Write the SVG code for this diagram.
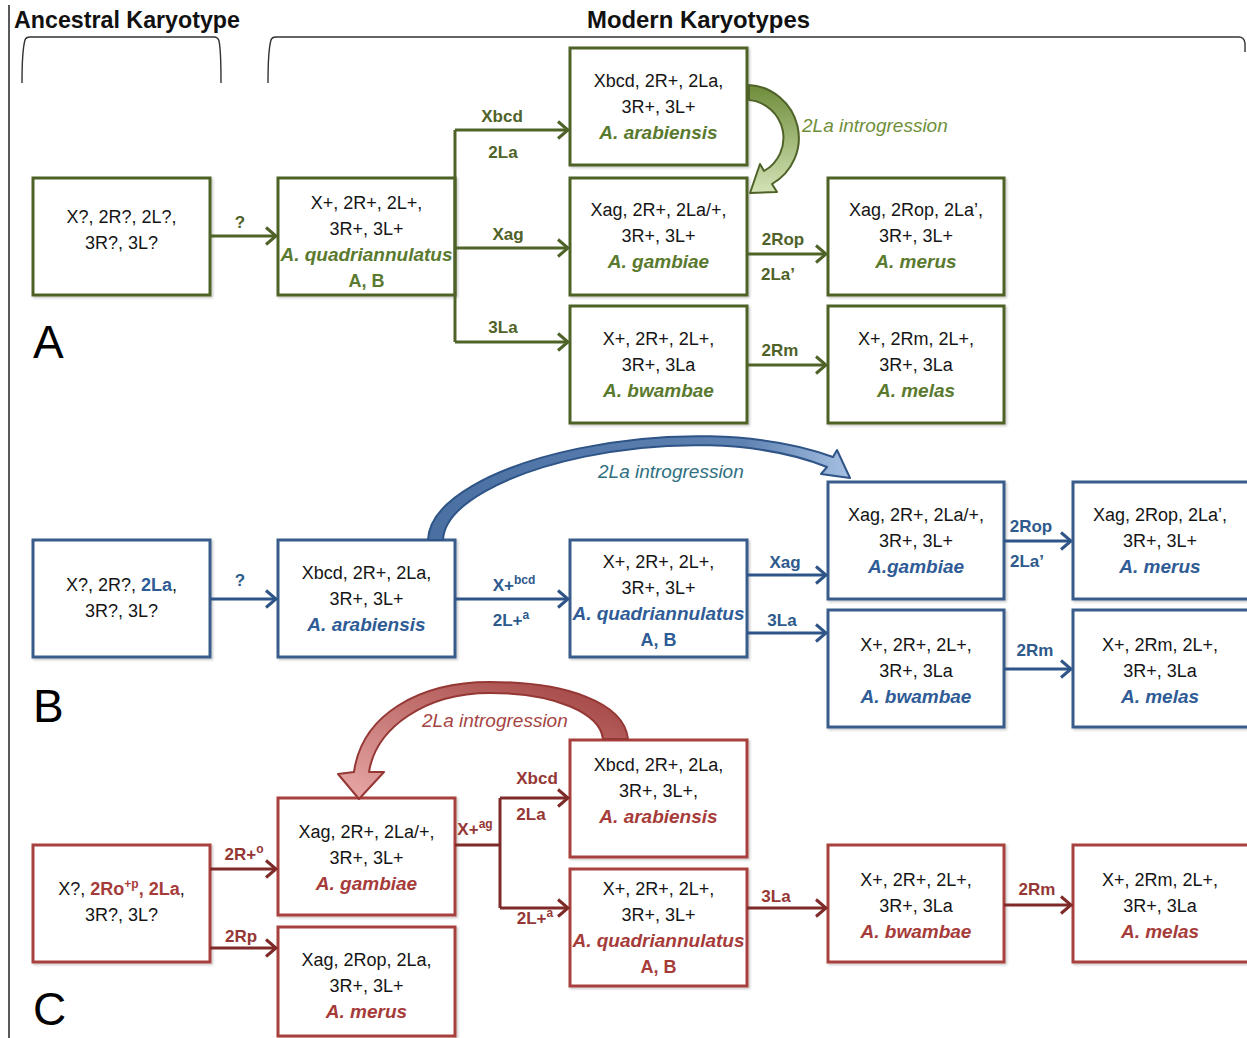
<svg xmlns="http://www.w3.org/2000/svg" width="1247" height="1038" viewBox="0 0 1247 1038">
  <defs>
    <style>
      .t { font-family: "Liberation Sans", Arial, sans-serif; font-size: 18px; text-anchor: middle; fill: #151515; }
      .sp { font-weight: bold; font-style: italic; font-size: 19px; }
      .ab { font-weight: bold; font-style: normal; font-size: 18px; }
      .lb { font-family: "Liberation Sans", Arial, sans-serif; font-weight: bold; font-size: 17px; text-anchor: middle; }
      .hd { font-family: "Liberation Sans", Arial, sans-serif; font-weight: bold; font-size: 24px; fill: #111; }
      .pl { font-family: "Liberation Sans", Arial, sans-serif; font-size: 46px; fill: #000; }
      .intro { font-family: "Liberation Sans", Arial, sans-serif; font-style: italic; font-size: 19px; }
      .box { fill: #fff; stroke-width: 3; filter: url(#shadow); }
      .gr .box { stroke: #4F6228; }
      .bl .box { stroke: #385D8A; }
      .rd .box { stroke: #A8403E; }
      .gr .sp, .gr .ab, .gr .ac { fill: #5A7A2F; }
      .bl .sp, .bl .ab, .bl .ac { fill: #2F5C96; }
      .rd .sp, .rd .ab, .rd .ac { fill: #A63C3A; }
      .line { fill: none; stroke-width: 3; }
      .lg { stroke: #4F6228; }
      .lbb { stroke: #2F5487; }
      .lr { stroke: #7D2A28; }
      .bracket { fill: none; stroke: #333; stroke-width: 1.4; }
    </style>
    <filter id="shadow" x="-10%" y="-10%" width="125%" height="125%">
      <feDropShadow dx="1.5" dy="1.5" stdDeviation="1.2" flood-color="#000" flood-opacity="0.22"/>
    </filter>
    <marker id="ahG" viewBox="0 0 14 20" refX="12" refY="10" markerWidth="14" markerHeight="20" markerUnits="userSpaceOnUse" orient="auto">
      <path d="M2,1.5 L12,10 L2,18.5" fill="none" stroke="#4F6228" stroke-width="3"/>
    </marker>
    <marker id="ahB" viewBox="0 0 14 20" refX="12" refY="10" markerWidth="14" markerHeight="20" markerUnits="userSpaceOnUse" orient="auto">
      <path d="M2,1.5 L12,10 L2,18.5" fill="none" stroke="#2F5487" stroke-width="3"/>
    </marker>
    <marker id="ahR" viewBox="0 0 14 20" refX="12" refY="10" markerWidth="14" markerHeight="20" markerUnits="userSpaceOnUse" orient="auto">
      <path d="M2,1.5 L12,10 L2,18.5" fill="none" stroke="#7D2A28" stroke-width="3"/>
    </marker>
    <linearGradient id="gradG" x1="0" y1="0" x2="0" y2="1">
      <stop offset="0" stop-color="#6E8C3A"/>
      <stop offset="1" stop-color="#D3E3B6"/>
    </linearGradient>
    <linearGradient id="gradB" x1="0" y1="0" x2="1" y2="0">
      <stop offset="0" stop-color="#4A70A2"/>
      <stop offset="0.75" stop-color="#5E82B2"/>
      <stop offset="1" stop-color="#A6C0E2"/>
    </linearGradient>
    <linearGradient id="gradR" x1="1" y1="0" x2="0" y2="1">
      <stop offset="0" stop-color="#9E3F3D"/>
      <stop offset="1" stop-color="#E8A9A7"/>
    </linearGradient>
  </defs>

  <rect width="1247" height="1038" fill="#fff"/>

  <!-- frame and headings -->
  <line x1="9" y1="5" x2="9" y2="1038" stroke="#222" stroke-width="1.5"/>
  <text class="hd" x="14" y="28" textLength="226" lengthAdjust="spacingAndGlyphs">Ancestral Karyotype</text>
  <text class="hd" x="587" y="28" textLength="223" lengthAdjust="spacingAndGlyphs">Modern Karyotypes</text>
  <path class="bracket" d="M22,83 C22,62 23,47 25,40 Q26,37 30,37 H214 Q218,37 219,41 C221,50 221,65 221,83"/>
  <path class="bracket" d="M268,83 C268,62 269,47 271,40 Q272,37 276,37 H1239 Q1244,37 1245,43 V52"/>

  <text class="pl" x="33" y="358">A</text>
  <text class="pl" x="33" y="722">B</text>
  <text class="pl" x="33" y="1025">C</text>

  <!-- ===== Panel A nodes ===== -->
  <g class="gr">
    <g id="a-ancestor">
      <rect class="box" x="33" y="178" width="177" height="117"/>
      <text class="t" x="121.5" y="223">X?, 2R?, 2L?,</text>
      <text class="t" x="121.5" y="249">3R?, 3L?</text>
    </g>
    <g id="a-quadriannulatus">
      <rect class="box" x="278" y="178" width="177" height="117"/>
      <text class="t" x="366.5" y="209">X+, 2R+, 2L+,</text>
      <text class="t" x="366.5" y="235">3R+, 3L+</text>
      <text class="t sp" x="366.5" y="261">A. quadriannulatus</text>
      <text class="t ab" x="366.5" y="287">A, B</text>
    </g>
    <g id="a-arabiensis">
      <rect class="box" x="570" y="48" width="177" height="117"/>
      <text class="t" x="658.5" y="87">Xbcd, 2R+, 2La,</text>
      <text class="t" x="658.5" y="113">3R+, 3L+</text>
      <text class="t sp" x="658.5" y="139">A. arabiensis</text>
    </g>
    <g id="a-gambiae">
      <rect class="box" x="570" y="178" width="177" height="117"/>
      <text class="t" x="658.5" y="216">Xag, 2R+, 2La/+,</text>
      <text class="t" x="658.5" y="242">3R+, 3L+</text>
      <text class="t sp" x="658.5" y="268">A. gambiae</text>
    </g>
    <g id="a-bwambae">
      <rect class="box" x="570" y="306" width="177" height="117"/>
      <text class="t" x="658.5" y="345">X+, 2R+, 2L+,</text>
      <text class="t" x="658.5" y="371">3R+, 3La</text>
      <text class="t sp" x="658.5" y="397">A. bwambae</text>
    </g>
    <g id="a-merus">
      <rect class="box" x="828" y="178" width="176" height="117"/>
      <text class="t" x="916" y="216">Xag, 2Rop, 2La’,</text>
      <text class="t" x="916" y="242">3R+, 3L+</text>
      <text class="t sp" x="916" y="268">A. merus</text>
    </g>
    <g id="a-melas">
      <rect class="box" x="828" y="306" width="176" height="117"/>
      <text class="t" x="916" y="345">X+, 2Rm, 2L+,</text>
      <text class="t" x="916" y="371">3R+, 3La</text>
      <text class="t sp" x="916" y="397">A. melas</text>
    </g>
  </g>

  <!-- ===== Panel B nodes ===== -->
  <g class="bl">
    <g id="b-ancestor">
      <rect class="box" x="33" y="540" width="177" height="117"/>
      <text class="t" x="121.5" y="591">X?, 2R?, <tspan class="ac" font-weight="bold">2La</tspan>,</text>
      <text class="t" x="121.5" y="617">3R?, 3L?</text>
    </g>
    <g id="b-arabiensis">
      <rect class="box" x="278" y="540" width="177" height="117"/>
      <text class="t" x="366.5" y="579">Xbcd, 2R+, 2La,</text>
      <text class="t" x="366.5" y="605">3R+, 3L+</text>
      <text class="t sp" x="366.5" y="631">A. arabiensis</text>
    </g>
    <g id="b-quadriannulatus">
      <rect class="box" x="570" y="540" width="177" height="117"/>
      <text class="t" x="658.5" y="568">X+, 2R+, 2L+,</text>
      <text class="t" x="658.5" y="594">3R+, 3L+</text>
      <text class="t sp" x="658.5" y="620">A. quadriannulatus</text>
      <text class="t ab" x="658.5" y="646">A, B</text>
    </g>
    <g id="b-gambiae">
      <rect class="box" x="828" y="482" width="176" height="117"/>
      <text class="t" x="916" y="521">Xag, 2R+, 2La/+,</text>
      <text class="t" x="916" y="547">3R+, 3L+</text>
      <text class="t sp" x="916" y="573">A.gambiae</text>
    </g>
    <g id="b-bwambae">
      <rect class="box" x="828" y="610" width="176" height="117"/>
      <text class="t" x="916" y="651">X+, 2R+, 2L+,</text>
      <text class="t" x="916" y="677">3R+, 3La</text>
      <text class="t sp" x="916" y="703">A. bwambae</text>
    </g>
    <g id="b-merus">
      <rect class="box" x="1073" y="482" width="177" height="117"/>
      <text class="t" x="1160" y="521">Xag, 2Rop, 2La’,</text>
      <text class="t" x="1160" y="547">3R+, 3L+</text>
      <text class="t sp" x="1160" y="573">A. merus</text>
    </g>
    <g id="b-melas">
      <rect class="box" x="1073" y="610" width="177" height="117"/>
      <text class="t" x="1160" y="651">X+, 2Rm, 2L+,</text>
      <text class="t" x="1160" y="677">3R+, 3La</text>
      <text class="t sp" x="1160" y="703">A. melas</text>
    </g>
  </g>

  <!-- ===== Panel C nodes ===== -->
  <g class="rd">
    <g id="c-ancestor">
      <rect class="box" x="33" y="845" width="177" height="117"/>
      <text class="t" x="121.5" y="895">X?, <tspan class="ac" font-weight="bold">2Ro<tspan font-size="12" dy="-7">+p</tspan><tspan dy="7">, 2La</tspan></tspan>,</text>
      <text class="t" x="121.5" y="921">3R?, 3L?</text>
    </g>
    <g id="c-gambiae">
      <rect class="box" x="278" y="798" width="177" height="117"/>
      <text class="t" x="366.5" y="838">Xag, 2R+, 2La/+,</text>
      <text class="t" x="366.5" y="864">3R+, 3L+</text>
      <text class="t sp" x="366.5" y="890">A. gambiae</text>
    </g>
    <g id="c-merus">
      <rect class="box" x="278" y="927" width="177" height="109"/>
      <text class="t" x="366.5" y="966">Xag, 2Rop, 2La,</text>
      <text class="t" x="366.5" y="992">3R+, 3L+</text>
      <text class="t sp" x="366.5" y="1018">A. merus</text>
    </g>
    <g id="c-arabiensis">
      <rect class="box" x="570" y="740" width="177" height="117"/>
      <text class="t" x="658.5" y="771">Xbcd, 2R+, 2La,</text>
      <text class="t" x="658.5" y="797">3R+, 3L+,</text>
      <text class="t sp" x="658.5" y="823">A. arabiensis</text>
    </g>
    <g id="c-quadriannulatus">
      <rect class="box" x="570" y="869" width="177" height="117"/>
      <text class="t" x="658.5" y="895">X+, 2R+, 2L+,</text>
      <text class="t" x="658.5" y="921">3R+, 3L+</text>
      <text class="t sp" x="658.5" y="947">A. quadriannulatus</text>
      <text class="t ab" x="658.5" y="973">A, B</text>
    </g>
    <g id="c-bwambae">
      <rect class="box" x="828" y="845" width="176" height="117"/>
      <text class="t" x="916" y="886">X+, 2R+, 2L+,</text>
      <text class="t" x="916" y="912">3R+, 3La</text>
      <text class="t sp" x="916" y="938">A. bwambae</text>
    </g>
    <g id="c-melas">
      <rect class="box" x="1073" y="845" width="177" height="117"/>
      <text class="t" x="1160" y="886">X+, 2Rm, 2L+,</text>
      <text class="t" x="1160" y="912">3R+, 3La</text>
      <text class="t sp" x="1160" y="938">A. melas</text>
    </g>
  </g>

  <!-- ===== Connectors ===== -->
  <g id="connectors">
    <!-- panel A -->
    <path class="line lg" d="M210,236 H276" marker-end="url(#ahG)"/>
    <path class="line lg" d="M455,130 V342"/>
    <path class="line lg" d="M455,130 H568" marker-end="url(#ahG)"/>
    <path class="line lg" d="M455,248 H568" marker-end="url(#ahG)"/>
    <path class="line lg" d="M455,342 H568" marker-end="url(#ahG)"/>
    <path class="line lg" d="M747,254 H826" marker-end="url(#ahG)"/>
    <path class="line lg" d="M747,365 H826" marker-end="url(#ahG)"/>
    <g class="lb" fill="#4F6228">
      <text x="240" y="228">?</text>
      <text x="502" y="122">Xbcd</text>
      <text x="503" y="158">2La</text>
      <text x="508" y="240">Xag</text>
      <text x="503" y="333">3La</text>
      <text x="783" y="245">2Rop</text>
      <text x="778" y="280">2La’</text>
      <text x="780" y="356">2Rm</text>
    </g>
    <path d="M749,85 A53,53 0 0 1 772,184 L777,192 L750,193 L760,164 L764,171 A38,38 0 0 0 749,100 Z" fill="url(#gradG)" stroke="#4F6228" stroke-width="2" stroke-linejoin="round"/>
    <text class="intro" x="802" y="132" fill="#6F8F3A">2La introgression</text>

    <!-- panel B -->
    <path class="line lbb" d="M210,599 H276" marker-end="url(#ahB)"/>
    <path class="line lbb" d="M455,599 H568" marker-end="url(#ahB)"/>
    <path class="line lbb" d="M747,575 H826" marker-end="url(#ahB)"/>
    <path class="line lbb" d="M747,633 H826" marker-end="url(#ahB)"/>
    <path class="line lbb" d="M1004,541 H1071" marker-end="url(#ahB)"/>
    <path class="line lbb" d="M1004,669 H1071" marker-end="url(#ahB)"/>
    <g class="lb" fill="#2E5A8C">
      <text x="240" y="586">?</text>
      <text x="514" y="591">X+<tspan font-size="12" dy="-7">bcd</tspan></text>
      <text x="511" y="626">2L+<tspan font-size="12" dy="-7">a</tspan></text>
      <text x="785" y="568">Xag</text>
      <text x="782" y="626">3La</text>
      <text x="1031" y="532">2Rop</text>
      <text x="1027" y="567">2La’</text>
      <text x="1035" y="656">2Rm</text>
    </g>
    <path d="M428,540 C431,460 690,404 833,457 L837,450 L850,478 L821,474 L827,467 C690,412 446,470 443,540 Z" fill="url(#gradB)" stroke="#2F5487" stroke-width="2" stroke-linejoin="round"/>
    <text class="intro" x="598" y="478" fill="#2E6F80">2La introgression</text>

    <!-- panel C -->
    <path class="line lr" d="M210,869 H276" marker-end="url(#ahR)"/>
    <path class="line lr" d="M210,948 H276" marker-end="url(#ahR)"/>
    <path class="line lr" d="M455,845 H500"/>
    <path class="line lr" d="M500,798 V908"/>
    <path class="line lr" d="M500,798 H568" marker-end="url(#ahR)"/>
    <path class="line lr" d="M500,908 H568" marker-end="url(#ahR)"/>
    <path class="line lr" d="M747,908 H826" marker-end="url(#ahR)"/>
    <path class="line lr" d="M1004,905 H1071" marker-end="url(#ahR)"/>
    <g class="lb" fill="#953735">
      <text x="244" y="860">2R+<tspan font-size="12" dy="-7">o</tspan></text>
      <text x="241" y="942">2Rp</text>
      <text x="475" y="835">X+<tspan font-size="12" dy="-7">ag</tspan></text>
      <text x="537" y="784">Xbcd</text>
      <text x="531" y="820">2La</text>
      <text x="535" y="924">2L+<tspan font-size="12" dy="-7">a</tspan></text>
      <text x="776" y="902">3La</text>
      <text x="1037" y="895">2Rm</text>
    </g>
    <path d="M628,739 C624,702 565,682 490,682 C420,682 362,714 354,772 L338,774 L359,799 L384,772 L369,772 C376,728 425,693 490,693 C555,693 600,713 603,739 Z" fill="url(#gradR)" stroke="#953735" stroke-width="2" stroke-linejoin="round"/>
    <text class="intro" x="422" y="727" fill="#A64543">2La introgression</text>
  </g>
</svg>
